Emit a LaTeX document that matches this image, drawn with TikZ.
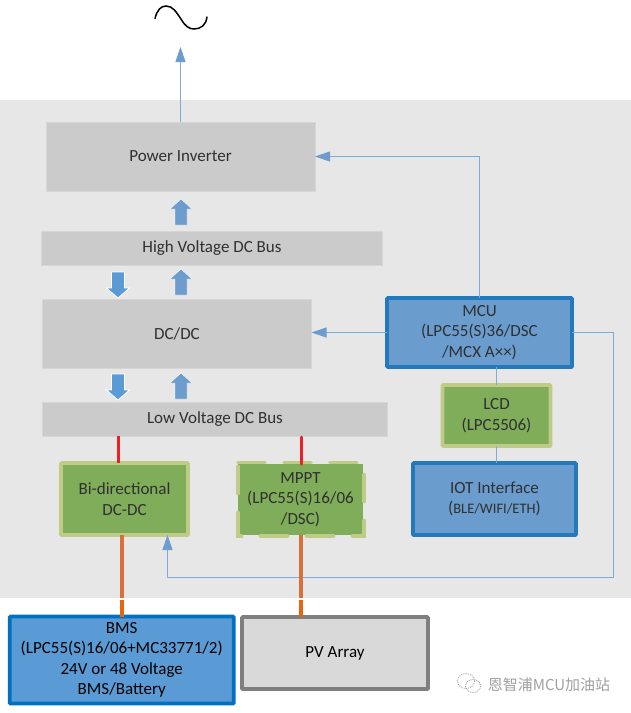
\documentclass[tikz,border=0pt]{standalone}
\usepackage{fontspec}
\setmainfont{Carlito}
\newfontfamily\cjk{Noto Sans CJK SC}
\usetikzlibrary{arrows.meta}
\definecolor{bgc}{HTML}{E7E7E7}
\definecolor{boxc}{HTML}{CBCBCB}
\definecolor{boxe}{HTML}{D6D6D6}
\definecolor{grn}{HTML}{7FAD5A}
\definecolor{grne}{HTML}{BFCB87}
\definecolor{blu}{HTML}{6A9CCD}
\definecolor{blue2}{HTML}{2279BC}
\definecolor{bmsf}{HTML}{5B9BD5}
\definecolor{bmse}{HTML}{0070C0}
\definecolor{pvf}{HTML}{D9D9D9}
\definecolor{pve}{HTML}{7F7F7F}
\definecolor{lin}{HTML}{7FABDA}
\definecolor{tip}{HTML}{6C9DCD}
\definecolor{red1}{HTML}{EE2025}
\definecolor{org}{HTML}{D8703A}
\definecolor{orgb}{HTML}{E8640F}
\definecolor{txt}{HTML}{303030}
\definecolor{wm}{HTML}{A0A0A0}
\newcommand\fatup[3]{\fill[#3,draw=white,line width=.4pt] (#1-11,#2+10) -- (#1,#2) -- (#1+11,#2+10) -- (#1+6,#2+10) -- (#1+6,#2+26) -- (#1-6,#2+26) -- (#1-6,#2+10) -- cycle;}
\newcommand\fatdown[3]{\fill[#3,draw=white,line width=.8pt] (#1-11.5,#2+16) -- (#1,#2+26) -- (#1+11.5,#2+16) -- (#1+6.5,#2+16) -- (#1+6.5,#2) -- (#1-6.5,#2) -- (#1-6.5,#2+16) -- cycle;}
\tikzset{x=1pt,y=-1pt,
  every node/.style={font=\fontsize{17}{20.4}\selectfont,text=txt,align=center,inner sep=0pt,outer sep=0pt},
  graybox/.style={fill=boxc,draw=boxe,line width=.8pt},
  greenbox/.style={fill=grn,draw=grne,line width=3.6pt,rounded corners=.8pt},
  bluebox/.style={fill=blu,draw=blue2,line width=3.6pt,rounded corners=.8pt},
  thinline/.style={draw=lin,line width=1pt},
  thinarrow/.style={thinline,-{Triangle[length=15pt,width=10pt,color=tip]}},
  redline/.style={draw=red1,line width=3pt},
  orgline/.style={draw=org,line width=3.2pt},
}
\begin{document}
\begin{tikzpicture}
\useasboundingbox (0,0) rectangle (631,713);
\fill[white] (0,0) rectangle (631,713);
\fill[bgc] (0,100) rectangle (631,597.7);
% boxes
\node[graybox,minimum width=269pt,minimum height=69pt] (PI) at (180.5,156.5) {Power Inverter};
\node[graybox,minimum width=341pt,minimum height=34pt] (HV) at (212,248) {High Voltage DC Bus};
\node[graybox,minimum width=269pt,minimum height=69pt] (DC) at (177,334) {DC/DC};
\node[graybox,minimum width=345pt,minimum height=34pt] (LV) at (215,419) {Low Voltage DC Bus};
\node[greenbox,minimum width=127pt,minimum height=72pt] (BI) at (124.5,499) {Bi-directional\\DC-DC};
\node[fill=grn,minimum width=125pt,minimum height=71pt] (MP) at (300.5,499.5) {MPPT\\(LPC55(S)16/06\\/DSC)};
\draw[grne,line width=3.6pt,line cap=round,dash pattern=on 27pt off 19pt] (238,462.5) -- (364,462.5) -- (364,536) -- (238,536) -- cycle;
\node[bluebox,minimum width=185pt,minimum height=69pt] (MC) at (479.5,332.5) {MCU\\(LPC55(S)36/DSC\\/MCX A××)};
\node[greenbox,minimum width=108pt,minimum height=61pt] (LC) at (496.5,415.5) {LCD\\(LPC5506)};
\node[bluebox,minimum width=163pt,minimum height=72pt] (IO) at (494.5,499) {IOT Interface\\({\fontsize{14.5}{20.4}\selectfont BLE/WIFI/ETH})};
\node[fill=bmsf,draw=bmse,line width=3.6pt,rounded corners=.8pt,text=black,minimum width=224pt,minimum height=87pt] (BM) at (121.75,660) {BMS\\(LPC55(S)16/06+MC33771/2)\\24V or 48 Voltage\\BMS/Battery};
\node[fill=pvf,draw=pve,line width=3.6pt,rounded corners=.8pt,text=black,minimum width=186pt,minimum height=72pt] (PV) at (335,653) {PV Array};
% free ends
\coordinate (ac) at (180.5,47);
\coordinate (redA) at (118,0);
\coordinate (orgA) at (122,0);
\coordinate (redB) at (301,0);
\coordinate (c1) at (613.5,332.5);
\coordinate (c2) at (613.5,577.5);
\coordinate (c3) at (167.5,577.5);
% thin connectors
\draw[thinarrow] (PI.north) -- (ac);
\draw[thinarrow] (MC.north) |- (PI.east);
\draw[thinarrow] (MC.west |- c1) -- (DC.east |- c1);
\draw[thinarrow] (MC.east |- c1) -- (c1) -- (c2) -- (c3) -- (BI.south -| c3);
\draw[thinline] (MC.south -| LC.north) -- (LC.north);
\draw[thinline] (LC.south) -- (IO.north -| LC.south);
% power lines
\draw[redline] (LV.south -| redA) -- (BI.north -| redA);
\draw[redline,line cap=round] (LV.south -| redB) ++(0,1) -- (MP.north -| redB);
\draw[orgline] (BI.south -| orgA) -- (BM.north -| orgA);
\draw[orgline] (MP.south -| redB) -- (PV.north -| redB);
\draw[draw=orgb,line width=3.2pt] (122,600) -- (BM.north -| orgA);
\draw[draw=orgb,line width=3.2pt] (301,600) -- (PV.north -| redB);
\fill[white] (118,597.7) rectangle (126,600);
\fill[white] (297,597.7) rectangle (305,600);
% block arrows
\fatup{181}{199}{tip}
\fatup{181}{269}{tip}
\fatup{181}{373}{tip}
\fatdown{118}{272}{bmsf}
\fatdown{118}{374}{bmsf}
% AC symbol
\draw[black,line width=1.5pt,line cap=round] (155,18.5) .. controls (157,10) and (161,6) .. (166,6) .. controls (173,6) and (176,12) .. (181,19) .. controls (185,26) and (189,29) .. (194,29) .. controls (201,29) and (206,25) .. (207,17);
% watermark
\draw[wm,line width=.9pt,densely dotted] (466,681) ellipse [x radius=8.5,y radius=7.5];
\draw[wm,line width=.9pt,densely dotted] (473,686) ellipse [x radius=7.5,y radius=6.5];
\node[text=wm,font=\cjk\fontsize{15}{18}\selectfont] (WM) at (549,684.5) {恩智浦MCU加油站};
\end{tikzpicture}
\end{document}
